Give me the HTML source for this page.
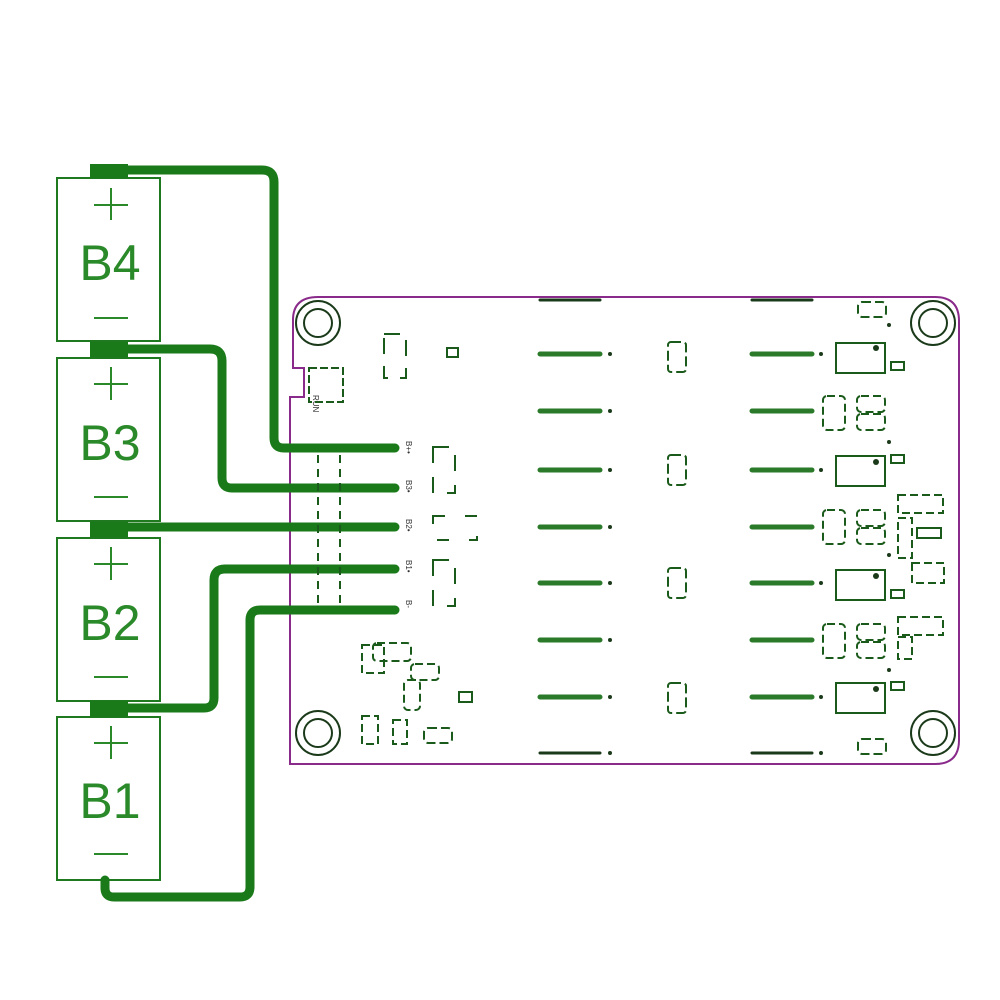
<!DOCTYPE html>
<html><head><meta charset="utf-8"><style>html,body{margin:0;padding:0;background:#fff}svg{display:block}</style></head>
<body>
<svg width="1000" height="1000" viewBox="0 0 1000 1000" xmlns="http://www.w3.org/2000/svg" font-family="Liberation Sans, sans-serif">
<rect width="1000" height="1000" fill="#fff"/>
<!-- board outline -->
<path d="M318 297 H935 Q959 297 959 321 V740 Q959 764 935 764 H290 V397 H304 V368 H293 V320 Q293 297 318 297 Z" fill="none" stroke="#8a2a8a" stroke-width="2"/>
<g fill="none" stroke="#1a3a1a" stroke-width="2">
<circle cx="318" cy="323" r="22"/><circle cx="318" cy="323" r="14"/>
<circle cx="933" cy="323" r="22"/><circle cx="933" cy="323" r="14"/>
<circle cx="318" cy="733" r="22"/><circle cx="318" cy="733" r="14"/>
<circle cx="933" cy="733" r="22"/><circle cx="933" cy="733" r="14"/>
</g>
<!-- batteries -->
<g fill="none" stroke="#1f7a1f" stroke-width="2">
<rect x="57" y="178" width="103" height="163"/>
<rect x="57" y="358" width="103" height="163"/>
<rect x="57" y="538" width="103" height="163"/>
<rect x="57" y="717" width="103" height="163"/>
</g>
<g fill="#1a7a1a">
<rect x="90" y="164" width="38" height="14"/>
<rect x="90" y="342" width="38" height="15"/>
<rect x="90" y="522" width="38" height="15"/>
<rect x="90" y="701" width="38" height="16"/>
</g>
<g fill="#2a8a2a" font-size="50" text-anchor="middle">
<text x="110" y="280">B4</text><text x="110" y="460">B3</text><text x="110" y="640">B2</text><text x="110" y="818">B1</text>
</g>
<g stroke="#2a8a2a" stroke-width="2">
<path d="M94 205 H128 M111 188 V220 M94 318 H128"/>
<path d="M94 384 H128 M111 367 V400 M94 497 H128"/>
<path d="M94 564 H128 M111 547 V580 M94 677 H128"/>
<path d="M94 743 H128 M111 726 V759 M94 854 H128"/>
</g>
<!-- wires -->
<g fill="none" stroke="#1a7a1a" stroke-width="9" stroke-linecap="round" stroke-linejoin="round">
<path d="M128 170 H262 Q274 170 274 182 V438 Q274 448 284 448 H395"/>
<path d="M128 349 H210 Q222 349 222 361 V478 Q222 488 232 488 H395"/>
<path d="M128 527 H395"/>
<path d="M128 708 H204 Q214 708 214 698 V580 Q214 569 225 569 H395"/>
<path d="M105 880 V888 Q105 897 114 897 H240 Q250 897 250 887 V620 Q250 610 260 610 H395"/>
</g>
<g stroke="#1a5a1a" stroke-width="2" stroke-dasharray="8 6">
<path d="M318 455 V605 M340 455 V605"/>
</g>
<g fill="#333" font-size="8" >
<text transform="translate(406,441) rotate(90)">B+•</text>
<text transform="translate(406,480) rotate(90)">B3•</text>
<text transform="translate(406,519) rotate(90)">B2•</text>
<text transform="translate(406,560) rotate(90)">B1•</text>
<text transform="translate(406,600) rotate(90)">B-</text>
<text transform="translate(313,395) rotate(90)">RUN</text>
</g>
<!-- long traces -->
<g stroke="#2a7a2a" stroke-linecap="round">
<path d="M540 300 H600 M752 300 H812" stroke-width="3" stroke="#1a3a1a"/>
<path d="M540 354 H600 M540 411 H600 M540 470 H600 M540 527 H600 M540 583 H600 M540 640 H600 M540 697 H600" stroke-width="5"/>
<path d="M752 354 H812 M752 411 H812 M752 470 H812 M752 527 H812 M752 583 H812 M752 640 H812 M752 697 H812" stroke-width="5"/>
<path d="M540 753 H600 M752 753 H812" stroke-width="3" stroke="#1a3a1a"/>
</g>
<g fill="#1a3a1a">
<circle cx="610" cy="354" r="2"/><circle cx="610" cy="411" r="2"/><circle cx="610" cy="470" r="2"/><circle cx="610" cy="527" r="2"/><circle cx="610" cy="583" r="2"/><circle cx="610" cy="640" r="2"/><circle cx="610" cy="697" r="2"/><circle cx="610" cy="753" r="2"/>
<circle cx="821" cy="354" r="2"/><circle cx="821" cy="470" r="2"/><circle cx="821" cy="583" r="2"/><circle cx="821" cy="697" r="2"/><circle cx="821" cy="753" r="2"/>
<circle cx="876" cy="348" r="3"/><circle cx="876" cy="462" r="3"/><circle cx="876" cy="576" r="3"/><circle cx="876" cy="689" r="3"/>
<circle cx="889" cy="325" r="2"/><circle cx="889" cy="442" r="2"/><circle cx="889" cy="555" r="2"/><circle cx="889" cy="670" r="2"/>
</g>
<!-- components -->
<g fill="none" stroke="#1a5a1a" stroke-width="2">
<rect x="668" y="342" width="18" height="30" rx="3" stroke-dasharray="10 4"/>
<rect x="668" y="455" width="18" height="30" rx="3" stroke-dasharray="10 4"/>
<rect x="668" y="568" width="18" height="30" rx="3" stroke-dasharray="10 4"/>
<rect x="668" y="683" width="18" height="30" rx="3" stroke-dasharray="10 4"/>
<rect x="836" y="343" width="49" height="30"/><rect x="836" y="456" width="49" height="30"/><rect x="836" y="570" width="49" height="30"/><rect x="836" y="683" width="49" height="30"/>
<rect x="891" y="362" width="13" height="8"/><rect x="891" y="455" width="13" height="8"/><rect x="891" y="590" width="13" height="8"/><rect x="891" y="682" width="13" height="8"/>
<rect x="917" y="528" width="24" height="10"/>
<rect x="447" y="348" width="11" height="9"/><rect x="459" y="692" width="13" height="10"/>
<rect x="858" y="302" width="28" height="15" rx="4" stroke-dasharray="9 4"/>
<rect x="858" y="739" width="28" height="15" rx="4" stroke-dasharray="9 4"/>
<rect x="424" y="728" width="28" height="15" rx="4" stroke-dasharray="9 4"/>
<rect x="384" y="334" width="22" height="44" stroke-dasharray="16 12"/>
<rect x="433" y="447" width="22" height="46" stroke-dasharray="16 14"/>
<rect x="433" y="560" width="22" height="46" stroke-dasharray="16 14"/>
<rect x="433" y="516" width="44" height="24" stroke-dasharray="12 20"/>
<rect x="309" y="368" width="34" height="34" stroke-dasharray="8 3"/>
<g stroke-dasharray="8 4">
<rect x="823" y="396" width="22" height="34" rx="4"/><rect x="857" y="396" width="28" height="16" rx="4"/><rect x="857" y="414" width="28" height="16" rx="4"/>
<rect x="823" y="510" width="22" height="34" rx="4"/><rect x="857" y="510" width="28" height="16" rx="4"/><rect x="857" y="528" width="28" height="16" rx="4"/>
<rect x="823" y="624" width="22" height="34" rx="4"/><rect x="857" y="624" width="28" height="16" rx="4"/><rect x="857" y="642" width="28" height="16" rx="4"/>
<rect x="898" y="495" width="45" height="18"/><rect x="898" y="518" width="14" height="40"/>
<rect x="912" y="563" width="32" height="20"/><rect x="898" y="617" width="45" height="18"/><rect x="898" y="637" width="14" height="22"/>
<rect x="362" y="645" width="22" height="28"/><rect x="373" y="643" width="38" height="18" rx="4"/>
<rect x="411" y="664" width="28" height="16" rx="4"/><rect x="404" y="680" width="16" height="30" rx="4"/>
<rect x="362" y="716" width="16" height="28"/><rect x="393" y="720" width="14" height="24"/>
</g>
</g>
</svg>
</body></html>
